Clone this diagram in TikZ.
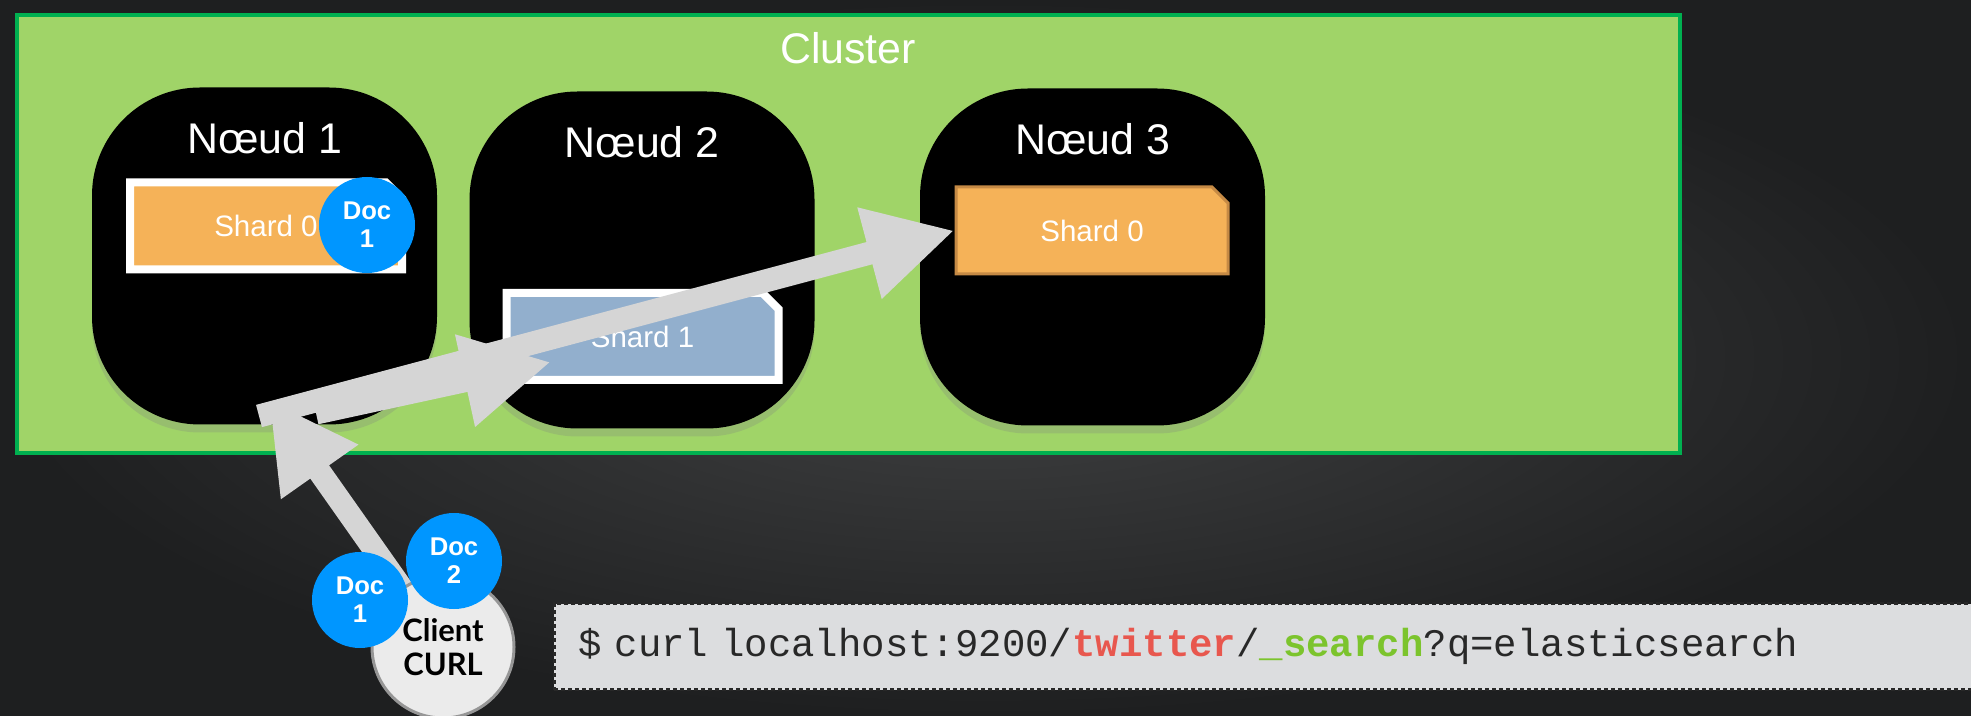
\documentclass[tikz,border=0pt]{standalone}
\usepackage{fontspec}
\setmainfont{Liberation Sans}
\newfontfamily\curlfont{Liberation Mono}
\newfontfamily\gillfont{Lato}
\usetikzlibrary{arrows.meta,positioning,shapes.misc,shadows}
\pgfdeclarelayer{front}
\pgfsetlayers{main,front}
\definecolor{bgdark}{RGB}{30,31,32}
\definecolor{bglight}{RGB}{64,65,66}
\definecolor{grass}{RGB}{160,212,104}
\definecolor{leaf}{RGB}{0,176,80}
\definecolor{amber}{RGB}{245,178,88}
\definecolor{rust}{RGB}{197,138,69}
\definecolor{steel}{RGB}{146,175,205}
\definecolor{azure}{RGB}{0,150,255}
\definecolor{ash}{RGB}{213,213,213}
\definecolor{fog}{RGB}{235,235,235}
\definecolor{smoke}{RGB}{150,150,150}
\definecolor{paper}{RGB}{220,221,223}
\definecolor{ink}{RGB}{40,40,40}
\definecolor{tomato}{RGB}{232,87,78}
\definecolor{moss}{RGB}{124,196,45}

\begin{document}
\begin{tikzpicture}[x=0.1mm,y=-0.1mm,
    noeud/.style={fill=black,rounded corners=10.8mm,minimum width=34.5mm,minimum height=33.7mm,inner sep=0pt,
      drop shadow={shadow xshift=0mm,shadow yshift=-0.8mm,opacity=0.25}},
    titre/.style={text=white,inner sep=0pt,font=\fontsize{12.2}{14}\selectfont},
    shard/.style={chamfered rectangle,chamfered rectangle corners=north east,chamfered rectangle sep=0.8mm,
      minimum width=27.2mm,minimum height=8.7mm,inner sep=0pt,text=white,font=\fontsize{8.4}{10}\selectfont},
    doc/.style={circle,fill=azure,minimum size=9.6mm,inner sep=0pt,text=white,align=center,
      font=\bfseries\fontsize{7.3}{8}\selectfont},
    flow/.style={ash,line width=2.3mm,-{Triangle[length=8.8mm,width=8.8mm]}}]
  \clip (0,0) rectangle (1971,716);
  \shade[inner color=bglight,outer color=bgdark] (0,0) rectangle (1971,716);
  % cluster and its nodes
  \node[draw=leaf,fill=grass,line width=0.4mm,minimum width=166.3mm,minimum height=43.8mm,inner sep=0pt] (cluster) at (848.5,234) {};
  \node[titre] (ctitre) at (848,48) {Cluster};
  \node[noeud] (n1) at (264.5,256) {};
  \node[noeud] (n2) at (642,260) {};
  \node[noeud] (n3) at (1092.5,257) {};
  \foreach \i in {1,2,3} \node[titre] (t\i) at ([yshift=-5.1mm]n\i.north) {Nœud \i};
  \node[shard,fill=amber,draw=white,line width=0.8mm] (s0) at (266,226) {Shard 0};
  \node[shard,fill=steel,draw=white,line width=0.8mm] (s1) at (642.5,336.5) {Shard 1};
  \node[shard,fill=amber,draw=rust,line width=0.3mm] (s3) at (1092,230.5) {Shard 0};
  \node[doc] (d0) at (367,225) {Doc\\1};
  % client
  \begin{pgfonlayer}{front}
    \node[circle,fill=fog,draw=smoke,line width=0.3mm,minimum size=14.2mm,inner sep=0pt,align=center,
      font=\gillfont\bfseries\fontsize{8.8}{9.7}\selectfont] (client) at (443,647) {Client\\CURL};
    \node[doc] (d1) at (360,600) {Doc\\1};
    \node[doc] (d2) at (454,561) {Doc\\2};
  \end{pgfonlayer}
  % requests
  \coordinate (hub) at (259,416);
  \coordinate (fork) at (316,413);
  \coordinate (hit) at (551,362);
  \coordinate (entry) at (269,400);
  \draw[flow] (hub) -- (s3.west);
  \draw[flow] (fork) -- (hit);
  \draw[flow] (client.center) -- (entry);
  \node[anchor=west,fill=paper,draw=ink,dash pattern=on 0.4mm off 0.3mm,line width=0.25mm,minimum height=8.6mm,
    text width=140mm,align=left,inner xsep=2.4mm,text=ink,font=\curlfont\fontsize{11.1}{12}\selectfont] (cmd) at (553,646.5)
    {\$ curl localhost:9200/{\bfseries\color{tomato}twitter}/{\bfseries\color{moss}\_search}?q=elasticsearch};
\end{tikzpicture}
\end{document}
